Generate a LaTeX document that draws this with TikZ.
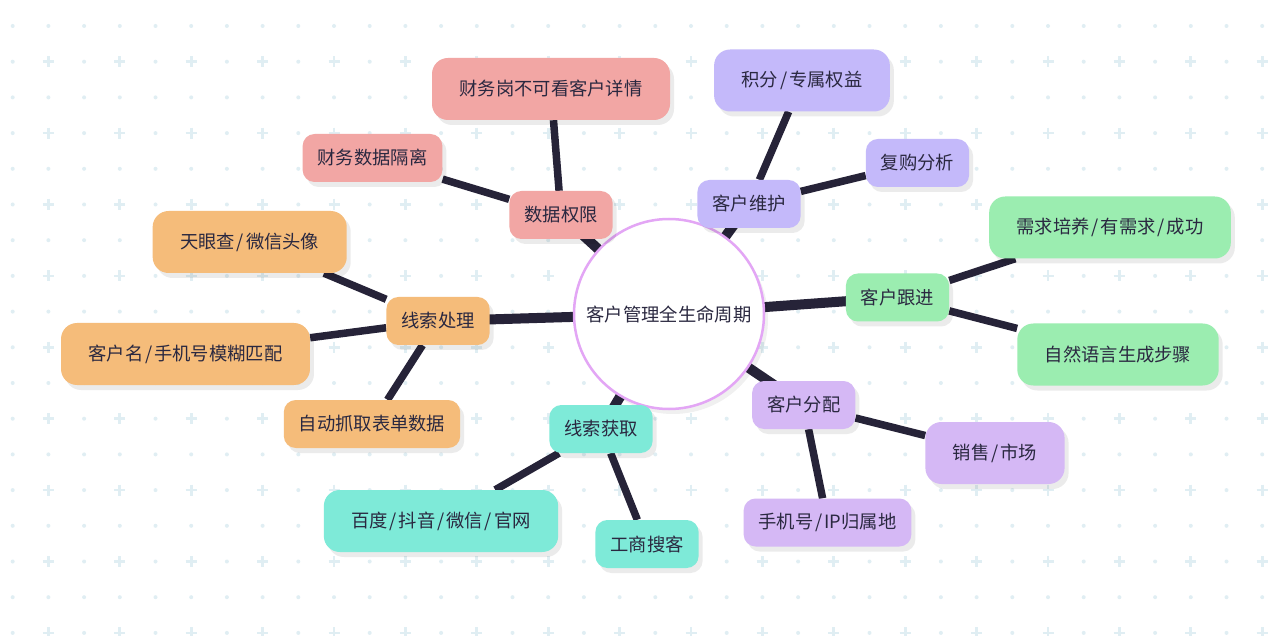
\documentclass[tikz,border=0pt]{standalone}
\usepackage{fontspec}
\setmainfont{Noto Sans CJK SC}
\usepackage{color}
\definecolor{mypink}{RGB}{242,166,164}
\definecolor{myviolet}{RGB}{196,185,250}
\definecolor{mygreen}{RGB}{155,237,176}
\definecolor{myorange}{RGB}{245,188,122}
\definecolor{myteal}{RGB}{126,234,216}
\definecolor{mylilac}{RGB}{213,184,245}
\definecolor{myring}{RGB}{227,166,245}
\definecolor{myink}{RGB}{42,40,64}
\definecolor{myedge}{RGB}{38,35,56}
\definecolor{mygrid}{RGB}{224,238,243}
\usepackage{tikz}
\usetikzlibrary{shadows,backgrounds,positioning}
\newcommand{\slashsep}{\hspace{1.9pt}/\hspace{1.9pt}}
\tikzstyle{topic}=[rounded corners=12pt,minimum height=48pt,inner xsep=15pt,inner ysep=0pt,text=myink,font=\fontsize{18.3pt}{22pt}\selectfont,drop shadow={shadow xshift=4pt,shadow yshift=-5pt,fill=black,opacity=0.08}]
\tikzstyle{bigtopic}=[topic,rounded corners=16pt,minimum height=62pt,inner xsep=27.5pt]
\tikzstyle{hub}=[circle,draw=myring,line width=2.5pt,fill=white,minimum size=190pt,inner sep=0pt,text=myink,font=\fontsize{18.3pt}{22pt}\selectfont,drop shadow={shadow xshift=4pt,shadow yshift=-5pt,fill=black,opacity=0.06}]
\tikzstyle{trunk}=[draw=myedge,line width=10pt]
\tikzstyle{twig}=[draw=myedge,line width=7.5pt]

\begin{document}
\begin{tikzpicture}[x=1pt,y=-1pt]
\useasboundingbox (0,0) rectangle (1280,636);
\begin{scope}[on background layer]
\fill[white] (0,0) rectangle (1280,636);
\foreach \i in {0,...,35}
  \foreach \j in {0,...,17}{
    \path (12.7+35.7*\i, 26+35.7*\j) coordinate (g);
    \ifodd\i\relax
      \ifodd\j\relax
        \draw[mygrid,line width=2.7pt] (g) +(-5.5,0) -- +(5.5,0) (g) +(0,-5.5) -- +(0,5.5);
      \else
        \fill[mygrid] (g) circle (2);
      \fi
    \else
      \fill[mygrid] (g) circle (2);
    \fi
  }
\end{scope}

\draw (669, 314) node [hub] (v0) {客户管理全生命周期};
% data rights
\draw (561, 215) node [topic, fill=mypink] (v1) {数据权限};
\draw (551, 89) node [bigtopic, fill=mypink] (v1a) {财务岗不可看客户详情};
\draw (372.5, 158) node [topic, fill=mypink] (v1b) {财务数据隔离};
% upkeep
\draw (749, 204) node [topic, fill=myviolet] (v2) {客户维护};
\draw (802, 80.5) node [bigtopic, fill=myviolet] (v2a) {积分\slashsep 专属权益};
\draw (917.5, 163) node [topic, fill=myviolet] (v2b) {复购分析};
% follow-up
\draw (897.5, 297.5) node [topic, fill=mygreen] (v3) {客户跟进};
\draw (1110, 227.5) node [bigtopic, fill=mygreen] (v3a) {需求培养\slashsep 有需求\slashsep 成功};
\draw (1118, 354.5) node [bigtopic, fill=mygreen] (v3b) {自然语言生成步骤};
% assignment
\draw (803.7, 405) node [topic, fill=mylilac] (v4) {客户分配};
\draw (995, 453) node [bigtopic, fill=mylilac] (v4a) {销售\slashsep 市场};
\draw (827.5, 522.5) node [topic, fill=mylilac] (v4b) {手机号\slashsep IP归属地};
% leads in
\draw (601, 429) node [topic, fill=myteal] (v5) {线索获取};
\draw (441, 521) node [bigtopic, fill=myteal] (v5a) {百度\slashsep 抖音\slashsep 微信\slashsep 官网};
\draw (647, 544) node [topic, fill=myteal] (v5b) {工商搜客};
% leads handling
\draw (438, 321) node [topic, fill=myorange] (v6) {线索处理};
\draw (249.7, 242) node [bigtopic, fill=myorange] (v6a) {天眼查\slashsep 微信头像};
\draw (185.5, 354) node [bigtopic, fill=myorange] (v6b) {客户名\slashsep 手机号模糊匹配};
\draw (372, 424) node [topic, fill=myorange] (v6c) {自动抓取表单数据};

\begin{scope}[on background layer]
\draw[trunk] (v0.center) -- (v1.center);
\draw[trunk] (v0.center) -- (v2.center);
\draw[trunk] (v0.center) -- (v3.center);
\draw[trunk] (v0.center) -- (v4.center);
\draw[trunk] (v0.center) -- (v5.center);
\draw[trunk] (v0.center) -- (v6.center);
\draw[twig] (v1) -- (v1a);
\draw[twig] (v1) -- (v1b);
\draw[twig] (v2) -- (v2a);
\draw[twig] (v2) -- (v2b);
\draw[twig] (v3) -- (v3a);
\draw[twig] (v3) -- (v3b);
\draw[twig] (v4) -- (v4a);
\draw[twig] (v4) -- (v4b);
\draw[twig] (v5) -- (v5a);
\draw[twig] (v5) -- (v5b);
\draw[twig] (v6) -- (v6a);
\draw[twig] (v6) -- (v6b);
\draw[twig] (v6) -- (v6c);
\end{scope}
\end{tikzpicture}
\end{document}
